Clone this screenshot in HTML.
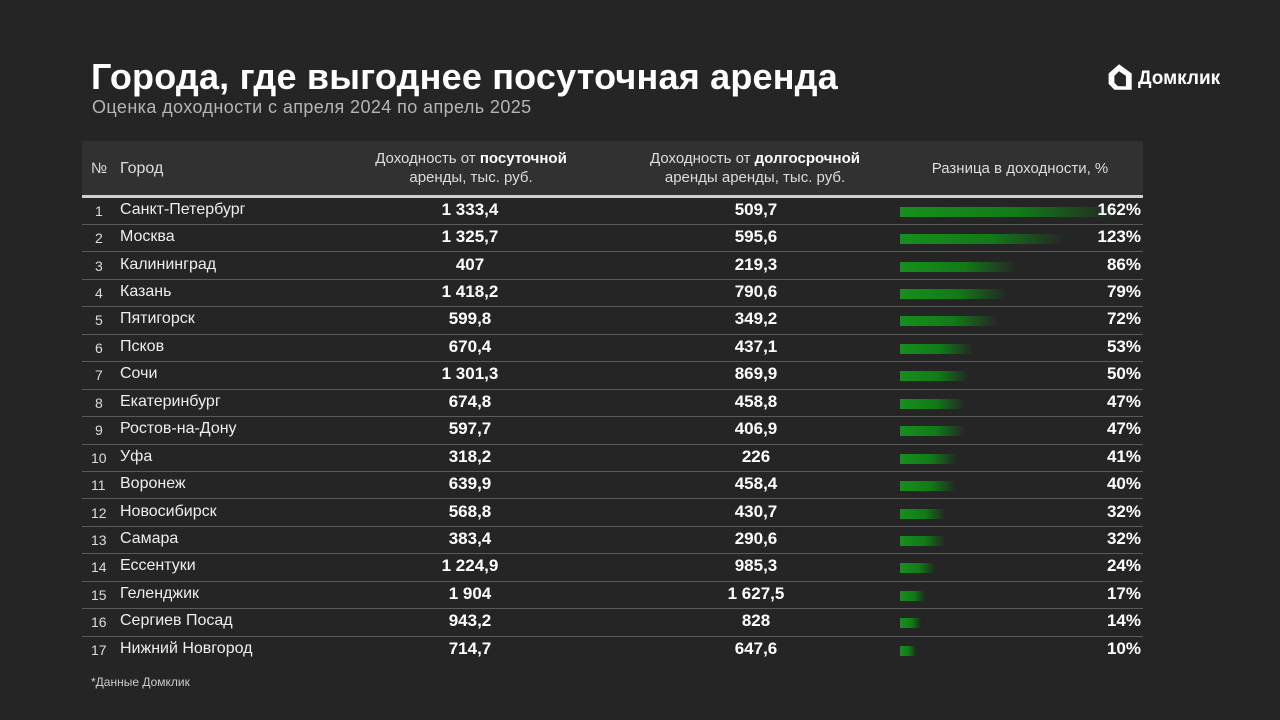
<!DOCTYPE html>
<html><head><meta charset="utf-8"><style>
*{margin:0;padding:0;box-sizing:border-box}
body{width:1280px;height:720px;background:#252525;font-family:"Liberation Sans","DejaVu Sans",sans-serif;color:#fff;position:relative;overflow:hidden}
.a{position:absolute;white-space:nowrap}
#title{left:91px;top:56px;font-size:36px;font-weight:bold;letter-spacing:0.2px}
#sub{left:92px;top:97px;font-size:18px;color:#b5b5b5;letter-spacing:0.4px}
#logo{left:1104px;top:62px;font-size:19px;font-weight:bold}
#hdr{left:82px;top:141px;width:1061px;height:55px;background:#313131}
#hl{left:82px;top:195px;width:1061px;height:3px;background:#cfcfcf}
.h{font-size:15px;color:#ddd;line-height:19px;text-align:center}
.sep{position:absolute;left:82px;width:1061px;height:1px;background:#5a5a5a}
.num{font-size:14px;color:#ddd}
.city{font-size:16px;color:#eee}
.v{font-size:17px;font-weight:bold;text-align:center;width:200px}
.p{font-size:17px;font-weight:bold;text-align:right;width:80px}
.bar{position:absolute;left:900px;height:10px;background:linear-gradient(90deg,#15901c 0%,#127a18 55%,rgba(18,110,22,0) 100%)}
#foot{left:91px;top:675px;font-size:12px;color:#ccc}
</style></head><body>
<div class="a" id="title">Города, где выгоднее посуточная аренда</div>
<div class="a" id="sub">Оценка доходности с апреля 2024 по апрель 2025</div>
<div class="a" id="logo"><svg width="30" height="30" viewBox="0 0 26 26" style="vertical-align:-8px;margin-right:4px"><path d="M13 2 L24 10 V24 H9 L4 19 V10 Z M9 12 V18 L12 21 H19 V12 L13 8 Z" fill="#fff" fill-rule="evenodd"/></svg>Домклик</div>
<div class="a" id="hdr"></div>
<div class="a" id="hl"></div>
<div class="a h" style="left:91px;top:159px">№</div>
<div class="a h" style="left:120px;top:159px;font-size:16px">Город</div>
<div class="a h" style="left:360px;top:149px;width:222px">Доходность от <b style="color:#fff">посуточной</b><br>аренды, тыс. руб.</div>
<div class="a h" style="left:635px;top:149px;width:240px">Доходность от <b style="color:#fff">долгосрочной</b><br>аренды аренды, тыс. руб.</div>
<div class="a h" style="left:920px;top:159px;width:200px">Разница в доходности, %</div>
<div id="rows"></div>
<div class="a" id="foot">*Данные Домклик</div>
<script>
var d=[["Санкт-Петербург","1 333,4","509,7",162],["Москва","1 325,7","595,6",123],["Калининград","407","219,3",86],["Казань","1 418,2","790,6",79],["Пятигорск","599,8","349,2",72],["Псков","670,4","437,1",53],["Сочи","1 301,3","869,9",50],["Екатеринбург","674,8","458,8",47],["Ростов-на-Дону","597,7","406,9",47],["Уфа","318,2","226",41],["Воронеж","639,9","458,4",40],["Новосибирск","568,8","430,7",32],["Самара","383,4","290,6",32],["Ессентуки","1 224,9","985,3",24],["Геленджик","1 904","1 627,5",17],["Сергиев Посад","943,2","828",14],["Нижний Новгород","714,7","647,6",10]];
var h="";
d.forEach(function(r,i){var t=197+i*27.44,c=t+13.7;
h+='<div class="a num" style="left:'+(i<9?95:91)+'px;top:'+(c-8)+'px">'+(i+1)+'</div>';
h+='<div class="a city" style="left:120px;top:'+(c-10)+'px">'+r[0]+'</div>';
h+='<div class="a v" style="left:370px;top:'+(c-11)+'px">'+r[1]+'</div>';
h+='<div class="a v" style="left:656px;top:'+(c-11)+'px">'+r[2]+'</div>';
h+='<div class="bar" style="top:'+(c-4)+'px;width:'+(r[3]*1.32+3)+'px"></div>';
h+='<div class="a p" style="left:1061px;top:'+(c-11)+'px">'+r[3]+'%</div>';
if(i<16)h+='<div class="sep" style="top:'+(t+27)+'px"></div>';});
document.getElementById("rows").innerHTML=h;
</script>
</body></html>
